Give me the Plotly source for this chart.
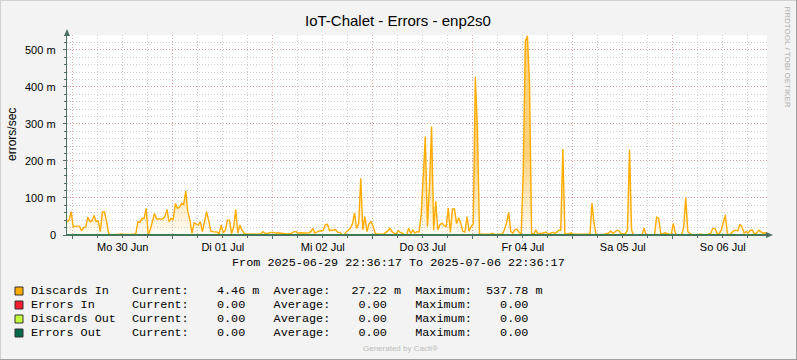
import plotly.graph_objects as go
from datetime import datetime, timedelta

# ---------------- data ----------------
title_text = "IoT-Chalet - Errors - enp2s0"
start = datetime(2025, 6, 29, 22, 36, 17)
end = datetime(2025, 7, 6, 22, 36, 17)
step_minutes = 30

# Discards In, errors/sec in milli units (m), one value per 30 minutes
discards_in = [
    36, 40, 63, 22, 24, 24, 24, 11, 20, 22,
    48, 36, 38, 53, 36, 38, 9, 62, 62, 36,
    5, 0, 0, 0, 1, 2, 3, 1, 2, 1,
    1, 2, 1, 2, 36, 34, 45, 44, 72, 0,
    15, 40, 58, 43, 43, 42, 44, 50, 69, 36,
    45, 42, 85, 72, 75, 85, 82, 119, 63, 40,
    5, 33, 30, 27, 36, 9, 36, 63, 40, 11,
    9, 8, 8, 3, 27, 6, 13, 40, 40, 4,
    22, 69, 5, 27, 13,
    5, 2, 2, 2, 2, 2, 2, 2, 3, 9,
    5, 4, 6, 7, 7, 5, 6, 6, 6, 4,
    3, 3, 3, 6, 9, 9, 5, 6, 6, 6,
    5, 5, 9, 18, 5, 9, 11, 11, 13, 28,
    29, 12, 13, 14, 14, 7, 7, 0, 0, 8,
    13, 18, 30, 60, 18, 31, 153, 14, 50, 9,
    31, 36, 22, 4, 2, 2, 2, 2, 7, 11,
    18, 9, 5, 2, 12, 7, 5, 0, 0, 18,
    4, 13, 6, 9,
    8, 55, 160, 266, 23, 136, 293, 13, 91, 14,
    28, 32, 25, 23, 73, 7, 70, 70, 31, 46,
    32, 10, 8, 50, 10, 23, 30, 427, 289, 2,
    2, 2, 2, 2, 2, 5, 2, 1, 2, 3,
    3, 15, 34, 61, 10, 5, 14, 16, 7, 2,
    167, 523, 537.78, 410, 5, 2, 14, 3, 5, 4,
    6, 8, 2, 5, 7, 5, 7, 13, 13, 232,
    4, 2, 5, 6, 2, 2, 3, 2, 2, 2,
    2, 2, 2, 86,
    31, 0, 0, 0, 0, 2, 4, 5, 11, 5,
    8, 13, 11, 3, 3, 3, 13, 231, 13, 0,
    0, 0, 0, 0, 18, 0, 0, 0, 0, 0,
    48, 45, 4, 3, 6, 4, 3, 0, 31, 5,
    0, 0, 0, 21, 102, 9, 5, 0, 0, 0,
    0, 3, 1, 0, 0, 3, 5, 18, 18, 5,
    3, 13, 31, 54, 4, 0, 6, 11, 13, 11,
    29, 22, 5, 9, 6, 13, 13, 3, 5, 13,
    9, 5, 6, 4.46,
]
n_points = len(discards_in)
# the other three series read 0.00 everywhere
errors_in = [0.0] * n_points
discards_out = [0.0] * n_points
errors_out = [0.0] * n_points

series_names = ["Discards In", "Errors In", "Discards Out", "Errors Out"]
series_colors = ["#FFAB00", "#F51D30", "#C4FD3D", "#00694A"]
legend_stats = [
    "Current:    4.46 m  Average:   27.22 m  Maximum:  537.78 m",
    "Current:    0.00    Average:    0.00    Maximum:    0.00",
    "Current:    0.00    Average:    0.00    Maximum:    0.00",
    "Current:    0.00    Average:    0.00    Maximum:    0.00",
]

day_labels = ["Mo 30 Jun", "Di 01 Jul", "Mi 02 Jul", "Do 03 Jul",
              "Fr 04 Jul", "Sa 05 Jul", "So 06 Jul"]
label_times = [datetime(2025, 6, 30, 12, 0, 0) + timedelta(days=k) for k in range(7)]
y_tickvals = [0, 100, 200, 300, 400, 500]
y_ticktext = ["0", "100 m", "200 m", "300 m", "400 m", "500 m"]
y_max = 540

times = [start + timedelta(minutes=step_minutes * i) for i in range(n_points)]

# ---------------- layout geometry ----------------
W, H = 797, 360
PL, PR, PT, PB = 67, 767, 35, 235   # plot area in pixels


def px(p):
    return (p - PL) / (PR - PL)


def py(q):
    return (PB - q) / (PB - PT)


fig = go.Figure()

fig.add_trace(go.Scatter(
    x=times, y=discards_in, mode="lines",
    line=dict(color=series_colors[0], width=1.4),
    fill="tozeroy",
    fillgradient=dict(type="vertical",
                      colorscale=[[0, "rgba(255,171,0,0.04)"], [1, "rgba(255,175,20,0.55)"]],
                      start=0, stop=220),
    hoverinfo="skip", showlegend=False,
))
for vals, col in zip([errors_in, discards_out, errors_out], series_colors[1:]):
    fig.add_trace(go.Scatter(x=times, y=vals, mode="lines",
                             line=dict(color=col, width=1.5),
                             hoverinfo="skip", showlegend=False))

# invisible trace to carry the label axis
fig.add_trace(go.Scatter(x=label_times, y=[None] * len(label_times), xaxis="x2",
                         mode="markers", showlegend=False, hoverinfo="skip"))

grid_dash = "1px,2px"
major_col = "rgba(220,140,140,0.75)"
minor_col = "rgba(185,185,185,0.7)"
axis_col = "#4F6F66"

fig.update_layout(
    width=W, height=H,
    margin=dict(l=PL, r=W - PR, t=PT, b=H - PB, pad=0),
    paper_bgcolor="#F3F3F3", plot_bgcolor="#FFFFFF",
    showlegend=False,
    font=dict(family="Liberation Sans", size=11, color="#000000"),
    xaxis=dict(
        type="date", range=[start, end],
        tickmode="linear", tick0="2025-06-30 00:00:00", dtick=86400000,
        showticklabels=False, ticks="outside", ticklen=3, tickcolor=axis_col,
        showgrid=True, gridcolor=major_col, griddash=grid_dash, gridwidth=1,
        minor=dict(dtick=21600000, tick0="2025-06-30 00:00:00", showgrid=True,
                   gridcolor=minor_col, griddash=grid_dash, gridwidth=1,
                   ticks="outside", ticklen=2, tickcolor=axis_col),
        showline=True, linecolor=axis_col, linewidth=1, zeroline=False,
        fixedrange=True,
    ),
    xaxis2=dict(
        type="date", range=[start, end], overlaying="x", side="bottom", anchor="y",
        tickmode="array", tickvals=label_times, ticktext=day_labels,
        showgrid=False, ticks="outside", ticklen=2, tickcolor="rgba(0,0,0,0)",
        showline=False, zeroline=False,
        tickfont=dict(family="Liberation Sans", size=11, color="#000000"),
    ),
    yaxis=dict(
        range=[0, y_max], tickmode="array", tickvals=y_tickvals,
        showticklabels=False,
        ticks="outside", ticklen=3, tickcolor=axis_col,
        showgrid=True, gridcolor=major_col, griddash=grid_dash, gridwidth=1,
        minor=dict(dtick=20, tick0=0, showgrid=True, gridcolor=minor_col,
                   griddash=grid_dash, gridwidth=1, ticks="outside", ticklen=2,
                   tickcolor=axis_col),
        showline=True, linecolor=axis_col, linewidth=1, zeroline=False,
        fixedrange=True,
    ),
)

shapes = []
# axis arrows
shapes.append(dict(type="path", xref="paper", yref="paper",
                   path=f"M {px(64)} {py(36)} L {px(70)} {py(36)} L {px(67)} {py(29)} Z",
                   fillcolor=axis_col, line=dict(width=0)))
shapes.append(dict(type="path", xref="paper", yref="paper",
                   path=f"M {px(766)} {py(232)} L {px(766)} {py(238)} L {px(773)} {py(235)} Z",
                   fillcolor=axis_col, line=dict(width=0)))
# image frame (shade)
shapes.append(dict(type="line", xref="paper", yref="paper", x0=px(0), x1=px(W), y0=py(0.5), y1=py(0.5),
                   line=dict(color="#D2D2D2", width=1)))
shapes.append(dict(type="line", xref="paper", yref="paper", x0=px(0.5), x1=px(0.5), y0=py(0), y1=py(H),
                   line=dict(color="#D2D2D2", width=1)))
shapes.append(dict(type="line", xref="paper", yref="paper", x0=px(0), x1=px(W), y0=py(H - 0.5), y1=py(H - 0.5),
                   line=dict(color="#A0A0A0", width=1)))
shapes.append(dict(type="line", xref="paper", yref="paper", x0=px(W - 0.5), x1=px(W - 0.5), y0=py(0), y1=py(H),
                   line=dict(color="#A0A0A0", width=1)))

annotations = []
# y tick labels, placed on the y axis scale
for v, t in zip(y_tickvals, y_ticktext):
    annotations.append(dict(x=px(58), y=v, xref="paper", yref="y", text=t,
                            showarrow=False, xanchor="right", yanchor="middle",
                            font=dict(family="Liberation Sans", size=11, color="#000000")))

row_y0, row_dy = 291, 14
mono = "Liberation Mono"
for k, (name, col, stats) in enumerate(zip(series_names, series_colors, legend_stats)):
    yc = row_y0 + k * row_dy
    shapes.append(dict(type="rect", xref="paper", yref="paper",
                       x0=px(15), x1=px(23), y0=py(yc - 4), y1=py(yc + 4),
                       fillcolor=col, line=dict(color="#333333", width=1)))
    annotations.append(dict(x=px(29), y=py(yc), xref="paper", yref="paper", text=name,
                            showarrow=False, xanchor="left", yanchor="middle",
                            font=dict(family=mono, size=11.8, color="#000000")))
    annotations.append(dict(x=px(130), y=py(yc), xref="paper", yref="paper",
                            text=stats.replace(" ", "&nbsp;"),
                            showarrow=False, xanchor="left", yanchor="middle",
                            font=dict(family=mono, size=11.8, color="#000000")))

annotations.append(dict(x=px(398), y=py(263), xref="paper", yref="paper",
                        text="From 2025-06-29 22:36:17 To 2025-07-06 22:36:17".replace(" ", "&nbsp;"),
                        showarrow=False, xanchor="center", yanchor="middle",
                        font=dict(family=mono, size=11.8, color="#000000")))
annotations.append(dict(x=px(398), y=py(20), xref="paper", yref="paper", text=title_text,
                        showarrow=False, xanchor="center", yanchor="middle",
                        font=dict(family="Liberation Sans", size=15, color="#000000")))
annotations.append(dict(x=px(12), y=py(135), xref="paper", yref="paper", text="errors/sec",
                        showarrow=False, xanchor="center", yanchor="middle", textangle=-90,
                        font=dict(family="Liberation Sans", size=12, color="#000000")))
annotations.append(dict(x=px(787), y=py(5), xref="paper", yref="paper", text="RRDTOOL / TOBI OETIKER",
                        showarrow=False, xanchor="center", yanchor="top", textangle=90,
                        font=dict(family="Liberation Sans", size=8, color="#B0B0B0")))
annotations.append(dict(x=px(400), y=py(349), xref="paper", yref="paper", text="Generated by Cacti®",
                        showarrow=False, xanchor="center", yanchor="middle",
                        font=dict(family="Liberation Sans", size=8, color="#BBBBBB")))

fig.update_layout(shapes=shapes, annotations=annotations)
fig.write_html("out.html")
